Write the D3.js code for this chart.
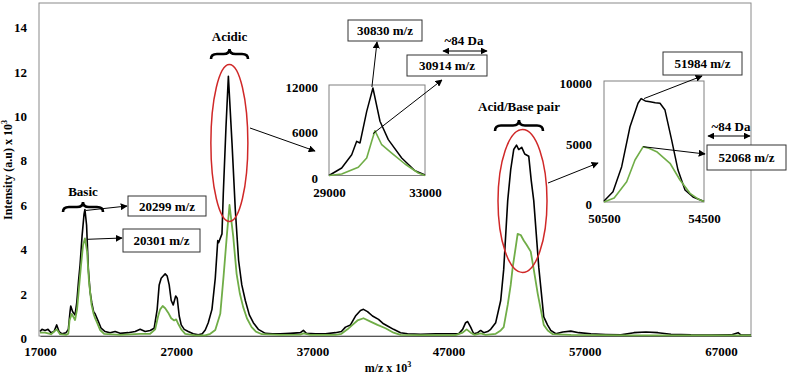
<!DOCTYPE html>
<html>
<head>
<meta charset="utf-8">
<script src="https://cdn.jsdelivr.net/npm/d3@7"></script>
<style>
  body { margin: 0; background: #fff; }
  text { font-family: "Liberation Serif", "Times New Roman", serif; font-weight: bold; fill: #000; }
</style>
</head>
<body>
<div id="chart"></div>
<script>
// main spectrum, [m/z, intensity x10^3]
const blackSpec = [
  [17000,0.2],[17147,0.3],[17368,0.25],[17588,0.3],[17809,0.15],[18029,0.2],[18228,0.5],[18397,0.2],
  [18618,0.1],[18912,0.15],[19081,0.3],[19206,1.1],[19257,1.35],[19390,1.1],[19574,0.95],[19699,1.5],
  [19831,2.5],[19941,3.2],[20088,4.5],[20235,5.5],[20299,5.7],[20419,5.0],[20551,3.0],[20676,2.0],
  [20801,1.5],[20934,1.1],[21044,1.0],[21287,0.65],[21485,0.35],[21779,0.2],[22147,0.15],[22515,0.2],
  [22882,0.12],[23471,0.15],[23985,0.2],[24353,0.3],[24721,0.2],[25088,0.25],[25382,0.35],[25603,1.2],
  [25750,2.3],[25897,2.6],[26044,2.7],[26191,2.8],[26338,2.7],[26485,2.3],[26632,1.6],[26779,1.4],
  [26963,1.8],[27074,1.7],[27221,0.9],[27368,0.5],[27588,0.3],[27882,0.2],[28250,0.1],[28618,0.05],
  [28912,0.1],[29132,0.27],[29353,0.6],[29625,1.2],[29868,2.6],[30051,4.3],[30110,4.2],[30360,4.6],
  [30456,6.4],[30654,9.4],[30830,11.7],[31096,8.7],[31338,5.7],[31581,3.4],[31816,2.3],[32074,1.6],
  [32368,0.95],[32662,0.6],[33029,0.3],[33544,0.12],[34059,0.1],[34647,0.1],[35382,0.12],[36118,0.15],
  [36338,0.25],[36559,0.12],[37221,0.1],[37956,0.1],[38691,0.15],[39132,0.2],[39426,0.4],[39794,0.5],
  [40162,0.9],[40529,1.15],[40750,1.2],[41044,1.1],[41412,0.9],[41853,0.75],[42221,0.55],[42515,0.45],
  [42956,0.3],[43471,0.15],[43985,0.1],[44941,0.08],[46044,0.1],[47147,0.1],[47735,0.1],[48029,0.3],
  [48250,0.6],[48397,0.65],[48618,0.4],[48838,0.1],[49132,0.15],[49353,0.25],[49574,0.15],[49868,0.2],
  [50088,0.3],[50456,0.6],[50824,1.6],[51044,3.0],[51338,6.1],[51559,7.5],[51779,8.4],[51984,8.6],
  [52147,8.4],[52368,8.5],[52588,8.2],[52882,8.1],[53066,7.0],[53250,6.1],[53434,4.6],[53618,3.1],
  [53765,2.2],[53985,0.86],[54257,0.5],[54500,0.25],[54868,0.1],[55382,0.18],[55971,0.22],[56559,0.15],
  [57441,0.1],[58544,0.07],[59647,0.05],[60603,0.15],[61485,0.18],[62368,0.15],[63324,0.08],[64794,0.05],
  [66265,0.04],[67735,0.05],[68250,0.15],[68471,0.04],[69200,0.04]
];
const greenSpec = [
  [17000,0.15],[17368,0.15],[17809,0.08],[18228,0.3],[18471,0.08],[18912,0.05],[19081,0.1],[19169,0.7],
  [19331,1.0],[19574,0.72],[19721,1.2],[19868,2.2],[20015,3.2],[20162,4.1],[20301,4.4],[20456,3.8],
  [20603,2.4],[20787,1.4],[20934,1.0],[21044,0.8],[21191,0.6],[21412,0.27],[21706,0.1],[22882,0.05],
  [24353,0.1],[25088,0.1],[25456,0.3],[25676,0.9],[25824,1.2],[26007,1.35],[26191,1.25],[26412,1.05],
  [26632,0.8],[26853,0.7],[27000,0.75],[27147,0.55],[27368,0.3],[27662,0.1],[28397,0.03],[29132,0.03],
  [29500,0.1],[29868,0.27],[30235,1.0],[30478,2.7],[30728,4.6],[30914,5.9],[31184,4.5],[31434,2.8],
  [31676,1.9],[31919,1.3],[32191,0.8],[32537,0.4],[32853,0.2],[33294,0.08],[34647,0.05],[36118,0.06],
  [36338,0.12],[36853,0.05],[38691,0.05],[39132,0.1],[39574,0.3],[39941,0.5],[40309,0.7],[40750,0.8],
  [41265,0.65],[41779,0.5],[42368,0.35],[42956,0.15],[43471,0.05],[44941,0.04],[47515,0.04],[48029,0.15],
  [48324,0.3],[48618,0.15],[48912,0.05],[49353,0.12],[49721,0.05],[50456,0.1],[50824,0.25],[51044,0.4],
  [51338,1.4],[51559,2.3],[51706,3.1],[51926,4.0],[52068,4.6],[52294,4.55],[52515,4.3],[52735,4.1],
  [53029,3.8],[53250,3.0],[53544,1.9],[53765,1.2],[53985,0.5],[54279,0.25],[54647,0.08],[55971,0.05],
  [60382,0.03],[65529,0.03],[69200,0.03]
];

// zoomed insets, [m/z, intensity]
const acidicBlack = [
  [29000,0],[29529,995],[29946,2760],[30154,4535],[30292,4310],[30571,8510],[30830,11600],[31125,7190],
  [31471,4750],[32029,2320],[32583,640],[33000,60]
];
const acidicGreen = [
  [29000,0],[29529,200],[30221,1090],[30571,2320],[30779,4535],[30914,5940],[31196,4080],[31613,2980],
  [32167,1525],[32721,330],[33000,0]
];
const pairBlack = [
  [50500,50],[50540,165],[50860,850],[51207,2920],[51540,6220],[51860,8160],[51984,8550],[52150,8350],
  [52340,8290],[52550,8200],[52740,8160],[52940,7600],[53207,5120],[53460,2640],[53740,990],[54060,410],
  [54460,80],[54500,60]
];
const pairGreen = [
  [50500,0],[50907,330],[51407,1680],[51740,3470],[52068,4570],[52300,4450],[52607,4160],[53140,3200],
  [53540,1820],[53940,720],[54300,200],[54500,50]
];

const xTicks = [17000, 27000, 37000, 47000, 57000, 67000];
const yTicks = [0, 2, 4, 6, 8, 10, 12, 14];
const inset1XTicks = [29000, 33000], inset1YTicks = [0, 6000, 12000];
const inset2XTicks = [50500, 54500], inset2YTicks = [0, 5000, 10000];

const width = 788, height = 381;
const black = "#000", green = "#70ad47", red = "#d02828";

const svg = d3.select("#chart").append("svg")
  .attr("width", width)
  .attr("height", height);

svg.append("defs").append("marker")
  .attr("id", "head")
  .attr("viewBox", "0 0 10 10")
  .attr("refX", 9).attr("refY", 5)
  .attr("markerWidth", 7).attr("markerHeight", 7)
  .attr("markerUnits", "userSpaceOnUse")
  .attr("orient", "auto-start-reverse")
  .append("path")
  .attr("d", "M0,0L10,5L0,10Z")
  .attr("fill", "#000");

let x = d3.scaleLinear().domain([17000, 69200]).range([40, 751]);
let y = d3.scaleLinear().domain([0, 15]).range([336, 3]);

// frame
svg.append("rect")
  .attr("x", 39).attr("y", y(15))
  .attr("width", x(69200) - 39).attr("height", y(0) - y(15))
  .attr("fill", "none")
  .attr("stroke", "#8a8a8a");

svg.append("g")
  .attr("transform", `translate(0,${y(0)})`)
  .call(d3.axisBottom(x).tickValues(xTicks).tickSize(0).tickPadding(11).tickFormat(d3.format("d")))
  .call(g => g.select(".domain").attr("stroke", "#555"))
  .selectAll("text").style("font-size", "13px").attr("font-family", null);

svg.append("g")
  .attr("transform", `translate(39,0)`)
  .call(d3.axisLeft(y).tickValues(yTicks).tickSize(0).tickPadding(12))
  .call(g => g.select(".domain").remove())
  .selectAll("text").style("font-size", "13px").attr("dy", "0.5em").attr("font-family", null);

// axis titles
svg.append("text")
  .attr("x", 388).attr("y", 372)
  .attr("text-anchor", "middle")
  .style("font-size", "12px")
  .text("m/z x 10")
  .append("tspan").attr("dy", -5).style("font-size", "8px").text("3");

svg.append("text")
  .attr("transform", "translate(12,170) rotate(-90)")
  .attr("text-anchor", "middle")
  .style("font-size", "12px")
  .text("Intensity (a.u) x 10")
  .append("tspan").attr("dy", -5).style("font-size", "8px").text("3");

function drawLine(data, xs, ys, color, w) {
  let line = d3.line().x(d => xs(d[0])).y(d => ys(d[1]));
  svg.append("path")
    .datum(data)
    .attr("d", line)
    .attr("fill", "none")
    .attr("stroke", color)
    .attr("stroke-width", w)
    .attr("stroke-linejoin", "round");
}

drawLine(blackSpec, x, y, black, 1.6);
drawLine(greenSpec, x, y, green, 1.8);

// insets
function inset(xs, ys, xt, yt, bl, gr, ypad) {
  svg.append("rect")
    .attr("x", xs.range()[0]).attr("y", ys.range()[1])
    .attr("width", xs.range()[1] - xs.range()[0])
    .attr("height", ys.range()[0] - ys.range()[1])
    .attr("fill", "#fff")
    .attr("stroke", "#808080");
  svg.append("g")
    .attr("transform", `translate(0,${ys.range()[0]})`)
    .call(d3.axisBottom(xs).tickValues(xt).tickSize(0).tickPadding(12).tickFormat(d3.format("d")))
    .call(g => g.select(".domain").remove())
    .selectAll("text").style("font-size", "13px").attr("font-family", null);
  svg.append("g")
    .attr("transform", `translate(${xs.range()[0]},0)`)
    .call(d3.axisLeft(ys).tickValues(yt).tickSize(0).tickPadding(ypad).tickFormat(d3.format("d")))
    .call(g => g.select(".domain").remove())
    .selectAll("text").style("font-size", "13px").attr("dy", "0.5em").attr("font-family", null);
  drawLine(bl, xs, ys, black, 1.5);
  drawLine(gr, xs, ys, green, 1.6);
}

let ix1 = d3.scaleLinear().domain([29000, 33000]).range([329, 425]);
let iy1 = d3.scaleLinear().domain([0, 12000]).range([175.5, 85]);
let ix2 = d3.scaleLinear().domain([50500, 54500]).range([604, 704]);
let iy2 = d3.scaleLinear().domain([0, 10000]).range([202, 81]);

inset(ix1, iy1, inset1XTicks, inset1YTicks, acidicBlack, acidicGreen, 11);
inset(ix2, iy2, inset2XTicks, inset2YTicks, pairBlack, pairGreen, 12);

// red ellipses
svg.append("ellipse").attr("cx", x(30830) + 1).attr("cy", 143).attr("rx", 18.5).attr("ry", 78.5)
  .attr("fill", "none").attr("stroke", red).attr("stroke-width", 1.5);
svg.append("ellipse").attr("cx", x(51984) + 6).attr("cy", 201).attr("rx", 24.5).attr("ry", 71.5)
  .attr("fill", "none").attr("stroke", red).attr("stroke-width", 1.5);

// braces + group labels
function brace(x1, x2, ytop, ybot) {
  let xm = (x1 + x2) / 2, ym = (ytop + ybot) / 2;
  return `M${x1},${ybot}Q${x1},${ym} ${x1 + 6},${ym}L${xm - 6},${ym}Q${xm},${ym} ${xm},${ytop}` +
    `Q${xm},${ym} ${xm + 6},${ym}L${x2 - 6},${ym}Q${x2},${ym} ${x2},${ybot}`;
}
[[63, 103, 202, 212, "Basic", 196], [211, 248, 49, 59, "Acidic", 41], [495, 543, 120, 131, "Acid/Base pair", 111]]
  .forEach(b => {
    svg.append("path").attr("d", brace(b[0], b[1], b[2], b[3]))
      .attr("fill", "none").attr("stroke", "#000").attr("stroke-width", 2.6);
    svg.append("text").attr("x", (b[0] + b[1]) / 2).attr("y", b[5])
      .attr("text-anchor", "middle").style("font-size", "13px").text(b[4]);
  });

// label boxes
function box(x0, y0, w, h, label) {
  svg.append("rect").attr("x", x0).attr("y", y0).attr("width", w).attr("height", h)
    .attr("fill", "#fff").attr("stroke", "#333").attr("stroke-width", 1);
  svg.append("text").attr("x", x0 + w / 2).attr("y", y0 + h / 2 + 4.5)
    .attr("text-anchor", "middle").style("font-size", "13px").text(label);
}
box(128, 196, 78, 20, "20299 m/z");
box(123, 229, 77, 23, "20301 m/z");
box(348, 20, 74, 21, "30830 m/z");
box(407, 55, 80, 21, "30914 m/z");
box(663, 52, 79, 23, "51984 m/z");
box(707, 145, 79, 25, "52068 m/z");

function arrow(x1, y1, x2, y2, both) {
  let a = svg.append("line").attr("x1", x1).attr("y1", y1).attr("x2", x2).attr("y2", y2)
    .attr("stroke", "#000").attr("stroke-width", 1)
    .attr("marker-end", "url(#head)");
  if (both) a.attr("marker-start", "url(#head)");
}
arrow(x(20299) + 1, y(5.7) + 1, 127, 206);
arrow(x(20301) + 2, y(4.4) + 1, 122, 238);
arrow(250, 128, 315, 151);
arrow(ix1(30830) - 1, iy1(11600) - 1, 377, 42);
arrow(ix1(30914) - 2, iy1(5940) + 3, 442, 80);
arrow(443, 51, 487, 51, true);
arrow(548, 183, 598, 163);
arrow(ix2(51984) + 3, iy2(8550), 702, 76);
arrow(ix2(52068), iy2(4570), 705, 154);
arrow(708, 136, 750, 136, true);

svg.append("text").attr("x", 464).attr("y", 45).attr("text-anchor", "middle")
  .style("font-size", "13px").text("~84 Da");
svg.append("text").attr("x", 731).attr("y", 131).attr("text-anchor", "middle")
  .style("font-size", "13px").text("~84 Da");
</script>
</body>
</html>
